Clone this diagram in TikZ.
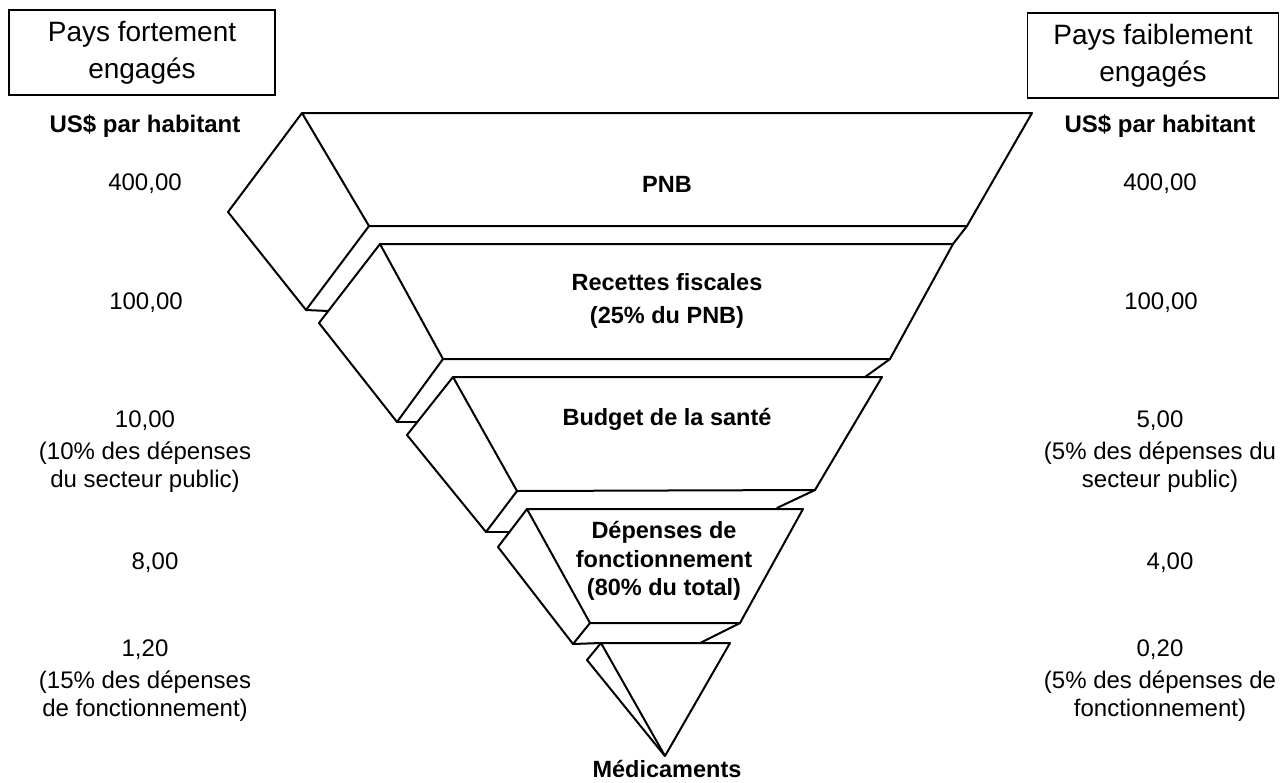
\documentclass[tikz,border=0pt]{standalone}
\usepackage{fontspec}
\setmainfont{Liberation Sans}
\begin{document}
\begin{tikzpicture}[x=1pt,y=-1pt,
  val/.style={font=\fontsize{24}{28}\selectfont, align=center, inner sep=0pt},
  unit/.style={font=\bfseries\fontsize{24}{28}\selectfont, inner sep=0pt},
  lab/.style={font=\bfseries\fontsize{23.5}{28.5}\selectfont, align=center, inner sep=0pt},
  hdr/.style={draw, line width=1.6pt, font=\fontsize{28}{37}\selectfont, align=center, minimum height=85pt, inner sep=0pt},
  face/.style={draw, line width=2pt, line join=round},
  link/.style={draw, line width=2pt, line cap=round}]
\useasboundingbox (0,0) rectangle (1280,782);
\fill[white] (0,0) rectangle (1280,782);

% ---------- funnel ----------
% PNB
\draw[face] (302,113) -- (1032,113) -- (967,226) -- (369,226) -- cycle;
\draw[face] (302,113) -- (228,212) -- (306,310) -- (369,226);
\draw[link] (306,310) -- (328,311);
\draw[link] (967,226) -- (953,244);
% Recettes
\draw[face] (380,244) -- (953,244) -- (890,359) -- (443,359) -- cycle;
\draw[face] (380,244) -- (319,323) -- (397,422) -- (443,359);
\draw[link] (397,422) -- (417,422);
\draw[link] (890,359) -- (865,377);
% Budget
\draw[face] (453,377) -- (882,377) -- (815,490) -- (517,491) -- cycle;
\draw[face] (453,377) -- (407,435) -- (486,532) -- (517,491);
\draw[link] (486,532) -- (509,532);
\draw[link] (815,490) -- (777,508);
% Depenses
\draw[face] (527,509) -- (803,509) -- (740,623) -- (590,623) -- cycle;
\draw[face] (527,509) -- (498,547) -- (573,644) -- (590,623);
\draw[link] (573,644) -- (601,643);
\draw[link] (740,623) -- (700,643);
% Medicaments
\draw[face] (601,643) -- (730,643) -- (665,756) -- cycle;
\draw[face] (601,643) -- (587,660) -- (660,750) -- (665,756);

% ---------- funnel labels ----------
\node[lab] (pnb) at (667,184) {PNB};
\node[lab] (rec) at (667,301) {Recettes fiscales\\[4pt](25\% du PNB)};
\node[lab] (bud) at (667,419) {Budget de la santé};
\node[lab] (dep) at (664,561) {Dépenses de\\fonctionnement\\(80\% du total)};
\node[lab] (med) at (667,769) {Médicaments};

% ---------- left column ----------
\node[hdr, minimum width=266pt] (lbox) at (142,52.5) {Pays fortement\\engagés};
\node[unit] (lunit) at (145,126) {US\$ par habitant};
\node[val] (l400) at (145,184) {400,00};
\node[val] (l100) at (146,303) {100,00};
\node[val] (l10) at (145,452) {10,00\\[4pt](10\% des dépenses\\du secteur public)};
\node[val] (l8) at (155,563) {8,00};
\node[val] (l12) at (145,681) {1,20\\[4pt](15\% des dépenses\\de fonctionnement)};

% ---------- right column ----------
\node[hdr, minimum width=251pt] (rbox) at (1153,55.5) {Pays faiblement\\engagés};
\node[unit] (runit) at (1160,126) {US\$ par habitant};
\node[val] (r400) at (1160,184) {400,00};
\node[val] (r100) at (1161,303) {100,00};
\node[val] (r5) at (1160,452) {5,00\\[4pt](5\% des dépenses du\\secteur public)};
\node[val] (r4) at (1170,563) {4,00};
\node[val] (r02) at (1160,681) {0,20\\[4pt](5\% des dépenses de\\fonctionnement)};
\end{tikzpicture}
\end{document}
